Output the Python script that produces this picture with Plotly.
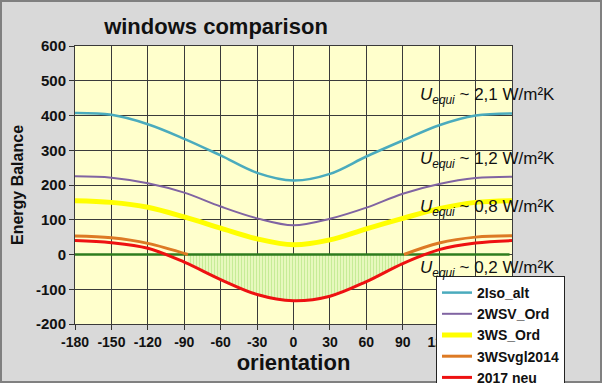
import plotly.graph_objects as go

# ---- data ----
orientation = [-180, -150, -120, -90, -60, -30, 0, 30, 60, 90, 120, 150, 180]
iso_alt   = [407, 402, 375, 333, 285, 235, 213, 232, 282, 328, 372, 400, 406]
wsv_ord   = [225, 221, 205, 178, 138, 104, 84, 103, 135, 175, 203, 220, 224]
ws_ord    = [155, 150, 136, 108, 76, 45, 28, 42, 74, 104, 132, 150, 155]
vgl_x     = [-180, -150, -120, -87, None, 91, 120, 150, 180]
vgl2014   = [53, 48, 32, 0, None, 0, 33, 50, 54]
neu2017   = [40, 34, 18, -22, -72, -115, -133, -120, -78, -26, 14, 33, 40]
hatch_x   = [-87, -60, -30, 0, 30, 60, 91]
hatch_y   = [-20, -72, -115, -133, -120, -78, -28]
zero_x    = [-180, 178]
zero_y    = [0, 0]

x_ticks = list(range(-180, 181, 30))
y_ticks = list(range(-200, 601, 100))

u_values = ["2,1", "1,2", "0,8", "0,2"]
label_y = [455, 271, 135, -43]

fig = go.Figure()

fig.add_trace(go.Scatter(
    x=hatch_x, y=hatch_y, mode="lines", line=dict(width=0, shape="spline"),
    fill="tozeroy", fillcolor="#e4f7b8",
    fillpattern=dict(shape="|", fgcolor="#9ee06a", bgcolor="#eef9c4", size=3, solidity=0.45),
    showlegend=False, hoverinfo="skip"))
fig.add_trace(go.Scatter(x=zero_x, y=zero_y, mode="lines", showlegend=False, hoverinfo="skip",
                         line=dict(color="#2e7d1e", width=2.5)))

fig.add_trace(go.Scatter(x=orientation, y=iso_alt, name="2Iso_alt", mode="lines",
                         line=dict(color="#4aabbd", width=2.5, shape="spline")))
fig.add_trace(go.Scatter(x=orientation, y=wsv_ord, name="2WSV_Ord", mode="lines",
                         line=dict(color="#8064a2", width=2, shape="spline")))
fig.add_trace(go.Scatter(x=orientation, y=ws_ord, name="3WS_Ord", mode="lines",
                         line=dict(color="#ffff00", width=5, shape="spline")))
fig.add_trace(go.Scatter(x=vgl_x, y=vgl2014, name="3WSvgl2014", mode="lines",
                         connectgaps=False,
                         line=dict(color="#dd7a24", width=3, shape="spline")))
fig.add_trace(go.Scatter(x=orientation, y=neu2017, name="2017 neu", mode="lines",
                         line=dict(color="#ee1111", width=3, shape="spline")))

for u, yv in zip(u_values, label_y):
    fig.add_annotation(x=(418 - 75) / 437, xref="paper", y=yv, yref="y",
                       text="<i>U<sub>equi</sub></i> ~ " + u + " W/m²K",
                       showarrow=False, xanchor="left", yanchor="middle",
                       font=dict(family="Arial, Liberation Sans", size=17, color="#111"))

fig.add_shape(type="rect", xref="paper", yref="paper",
              x0=(1 - 75) / 437, x1=(601 - 75) / 437,
              y0=-(382 - 324) / 278, y1=1 + (46 - 1) / 278,
              line=dict(color="#808080", width=2), layer="below")

fig.update_layout(
    width=602, height=383,
    margin=dict(l=75, r=90, t=46, b=59, autoexpand=False),
    paper_bgcolor="#d9d9d9", plot_bgcolor="#ffffcc",
    font=dict(family="Arial, Liberation Sans", color="#111"),
    title=dict(text="<b>windows comparison</b>", x=216 / 602, xanchor="center",
               xref="container", y=1 - 26 / 383, yanchor="middle", yref="container",
               font=dict(size=22, color="#111")),
    legend=dict(x=(436 - 75) / 437, y=1 - (276 - 46) / 278, xanchor="left", yanchor="top",
                bgcolor="white", bordercolor="#222", borderwidth=1, itemwidth=30,
                font=dict(size=14, color="#111", family="Arial, Liberation Sans", weight="bold"),
                tracegroupgap=0),
    showlegend=True,
)
fig.update_xaxes(range=[-180, 180], tickvals=x_ticks, ticktext=[str(v) for v in x_ticks],
                 showgrid=True, gridcolor="#3a3a3a", gridwidth=1,
                 ticks="outside", ticklen=5, tickcolor="#333",
                 tickfont=dict(size=14, weight="bold"),
                 showline=True, linecolor="#3a3a3a", mirror=True, zeroline=False,
                 title=dict(text="<b>orientation</b>", font=dict(size=22), standoff=4))
fig.update_yaxes(range=[-200, 600], tickvals=y_ticks, ticktext=[str(v) for v in y_ticks],
                 showgrid=True, gridcolor="#3a3a3a", gridwidth=1,
                 ticks="outside", ticklen=5, tickcolor="#333",
                 tickfont=dict(size=15, weight="bold"),
                 showline=True, linecolor="#3a3a3a", mirror=True, zeroline=False,
                 title=dict(text="<b>Energy Balance</b>", font=dict(size=16), standoff=8))

fig.write_html("out.html", config={"displayModeBar": False},
               post_script="document.body.style.margin='0';document.body.style.background='#d9d9d9';")
